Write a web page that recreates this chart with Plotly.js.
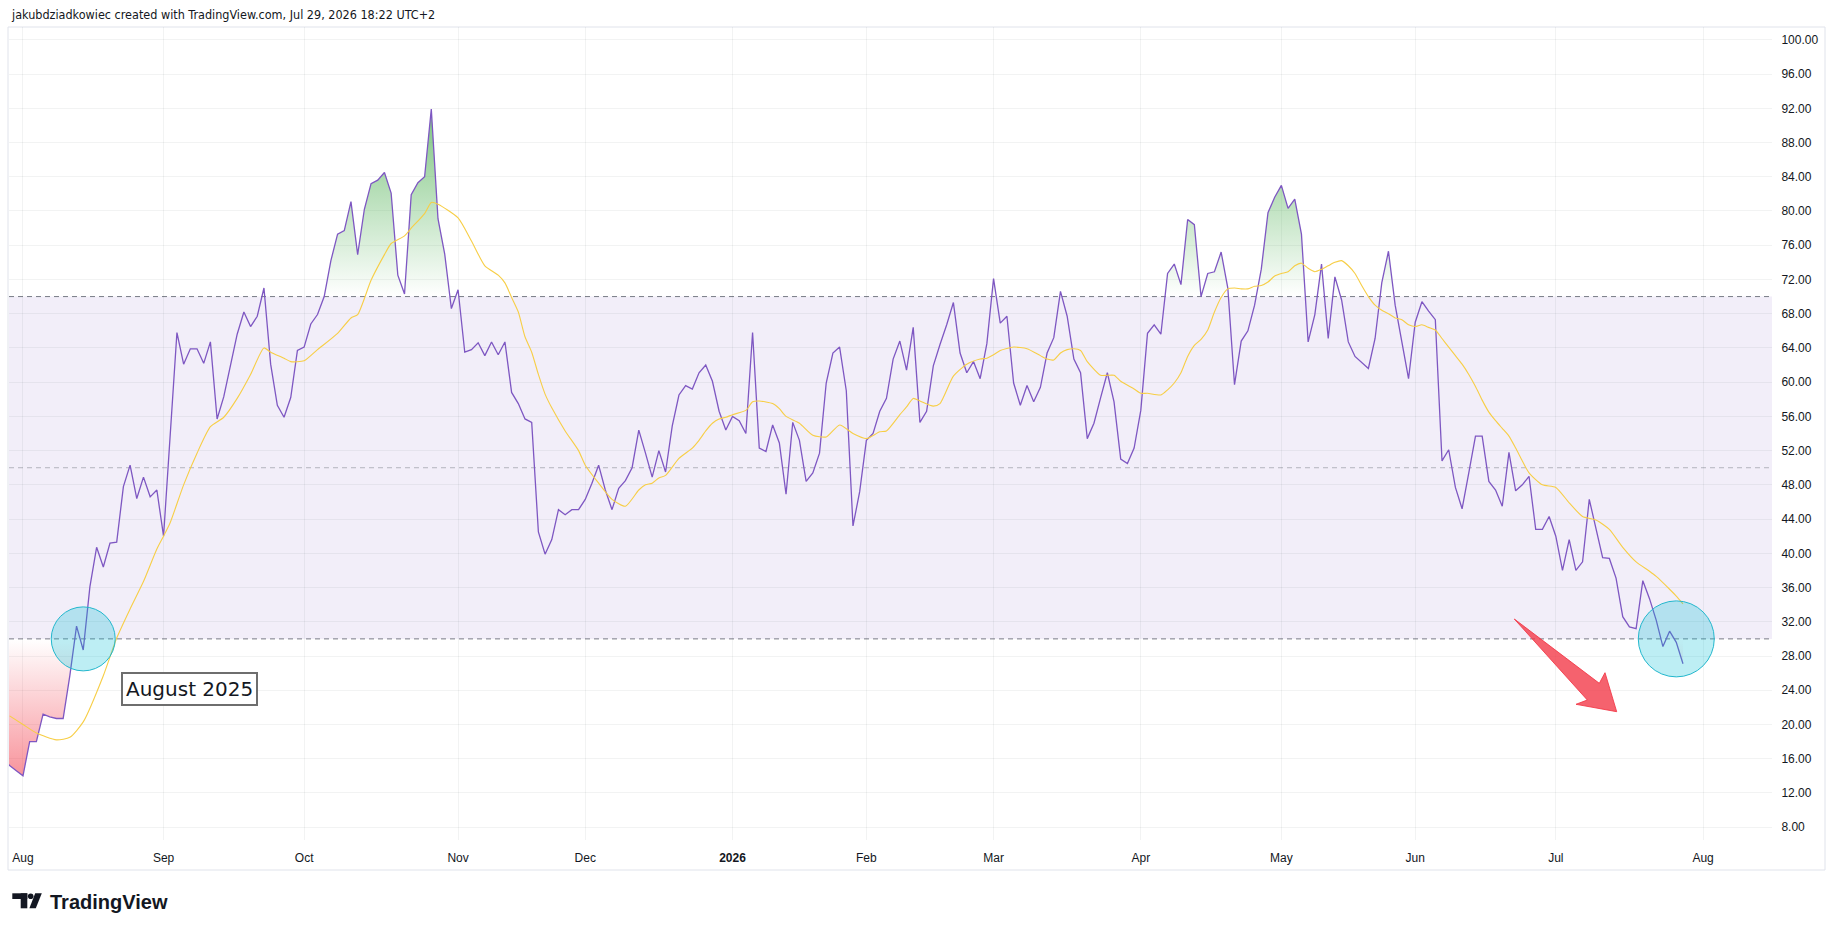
<!DOCTYPE html>
<html>
<head>
<meta charset="utf-8">
<script src="https://cdn.plot.ly/plotly-3.0.1.min.js"></script>
<style>
html,body{margin:0;padding:0;background:#ffffff;}
#chart{width:1835px;height:931px;}
</style>
</head>
<body>
<div id="chart"></div>
<script>
// ---------------- DATA ----------------
const firstDate = '2025-07-29';
const calendarEnd = '2026-08-31';
const holidays = ['2025-09-01','2025-11-27','2025-12-25','2026-01-01','2026-01-19',
                  '2026-02-16','2026-04-03','2026-05-25','2026-06-19','2026-07-03'];

// RSI(14), one value per trading day starting 2025-07-29
const rsiValues = [
  16.0, 15.2, 14.6,
  14.0, 18.0, 18.0, 21.2, 20.9, 20.7, 20.7, 25.7, 31.5, 28.7,
  36.1, 40.7, 38.4, 41.2, 41.3, 47.8, 50.3, 46.4, 48.9, 46.6,
  47.4, 42.0, 54.0, 65.8, 62.1, 63.9, 63.9, 62.2, 64.7, 55.7,
  58.3, 61.8, 65.6, 68.2, 66.5, 67.7, 71.0, 62.1, 57.3, 55.9,
  58.2, 63.7, 64.1, 66.8, 67.9, 70.0, 74.2, 77.3, 77.7, 81.1,
  74.9, 80.2, 83.2, 83.6, 84.5, 82.1, 72.5, 70.3, 81.9, 83.3,
  84.0, 91.9, 79.1, 75.0, 68.6, 70.8, 63.5, 63.8, 64.6, 63.1,
  64.7, 63.2, 64.7, 58.8, 57.5, 55.7, 55.3, 42.5, 39.9, 41.6,
  45.1, 44.5, 45.1, 45.1, 46.3, 48.2, 50.3, 47.4, 45.1, 47.6,
  48.5, 50.0, 54.4, 51.7, 48.9, 52.0, 49.5, 54.9, 58.5, 59.6,
  59.2, 61.1, 62.0, 60.1, 56.6, 54.4, 56.0, 55.5, 54.0, 65.8,
  52.3, 51.9, 55.0, 52.9, 46.9, 55.3, 53.2, 48.4, 49.4, 51.7,
  59.9, 63.4, 64.1, 59.0, 43.2, 47.2, 53.2, 54.0, 56.6, 58.1,
  62.7, 64.8, 61.4, 66.4, 55.3, 56.6, 61.9, 64.4, 66.7, 69.3,
  63.4, 61.1, 62.4, 60.4, 64.5, 72.1, 66.9, 67.7, 59.9, 57.3,
  59.6, 57.7, 59.4, 63.4, 65.2, 70.6, 67.7, 62.7, 61.1, 53.4,
  55.2, 58.2, 61.1, 57.7, 51.0, 50.5, 52.3, 56.7, 65.7, 66.7,
  65.6, 72.7, 73.8, 71.4, 79.0, 78.4, 70.0, 72.7, 72.9, 75.2,
  71.0, 59.7, 64.8, 66.0, 69.0, 73.2, 79.8, 81.6, 83.0, 80.3,
  81.4, 77.3, 64.7, 67.9, 73.8, 65.1, 72.3, 69.6, 64.7, 63.0,
  62.3, 61.6, 65.1, 71.6, 75.3, 69.0, 64.7, 60.4, 67.0, 69.4,
  68.3, 67.3, 50.8, 52.1, 47.7, 45.2, 49.4, 53.7, 53.7, 48.4,
  47.4, 45.5, 51.8, 47.3, 48.0, 49.0, 42.8, 42.8, 44.3, 42.0,
  38.0, 41.6, 38.0, 39.0, 46.3, 42.8, 39.5, 39.4, 37.1, 32.6,
  31.4, 31.2, 36.8, 34.7, 32.2, 29.1, 30.9, 29.6, 27.1
];

// RSI-based moving average, read at these trading-day numbers (0 = first date)
const maDay = [
  1, 3, 5, 8, 10, 12, 15, 17, 19, 21, 23, 24, 25, 27, 29, 31, 33, 35, 37, 39,
  40, 42, 43, 45, 47, 50, 52, 53, 55, 57, 58, 60, 61, 63, 64, 65, 68, 70, 72, 74,
  75, 76, 77, 78, 79, 80, 81, 82, 84, 86, 87, 89, 91, 93, 95, 96, 97, 98, 99, 101,
  103, 104, 105, 106, 107, 108, 109, 111, 112, 113, 115, 116, 117, 119, 121, 123, 125, 127, 129, 131,
  132, 134, 135, 136, 137, 139, 140, 142, 144, 146, 147, 148, 149, 151, 153, 155, 156, 157, 158, 159,
  160, 161, 162, 164, 165, 166, 167, 169, 170, 171, 173, 174, 175, 176, 177, 178, 179, 180, 181, 182,
  183, 184, 185, 186, 187, 188, 189, 190, 191, 192, 193, 194, 195, 196, 197, 198, 199, 200, 201, 202,
  203, 204, 205, 206, 207, 208, 209, 210, 211, 212, 213, 214, 215, 216, 217, 218, 219, 220, 221, 222,
  223, 224, 225, 226, 227, 228, 230, 232, 234, 236, 238, 240, 242, 244, 246, 247, 249, 250, 251
];
const maValue = [
  21.0, 20.0, 19.0, 18.2, 18.5, 20.3, 25.7, 30.1, 33.5, 36.7, 40.5, 42.0, 43.6, 48.0, 51.7, 54.8, 55.9, 58.1, 60.9, 64.0,
  63.5, 62.8, 62.4, 62.5, 63.8, 65.7, 67.5, 67.9, 71.9, 74.9, 76.2, 77.1, 78.0, 79.7, 81.0, 80.8, 79.2, 76.5, 73.6, 72.5,
  71.6, 69.9, 68.2, 65.3, 63.5, 60.9, 58.6, 57.0, 54.3, 52.0, 50.3, 48.2, 46.3, 45.5, 47.4, 48.0, 48.2, 48.8, 49.1, 51.1,
  52.3, 53.2, 54.3, 55.2, 55.7, 55.9, 56.2, 56.7, 57.7, 57.8, 57.5, 56.9, 56.0, 55.2, 53.8, 53.6, 55.0, 54.0, 53.4, 54.2,
  54.3, 56.2, 57.1, 58.1, 57.8, 57.2, 57.5, 60.7, 62.1, 62.7, 62.8, 63.2, 63.7, 64.1, 63.9, 63.1, 62.7, 62.6, 63.4, 63.8,
  63.9, 63.7, 62.4, 60.8, 60.8, 60.8, 60.1, 59.2, 58.7, 58.7, 58.5, 59.1, 59.9, 61.1, 63.0, 64.3, 65.0, 66.1, 68.2, 69.9,
  70.9, 71.0, 70.9, 70.9, 71.2, 71.3, 71.7, 72.4, 72.7, 72.9, 73.6, 73.9, 73.3, 72.9, 73.2, 73.6, 74.0, 74.2, 73.6, 72.7,
  71.3, 70.0, 69.0, 68.4, 68.0, 67.5, 67.3, 66.7, 66.5, 66.7, 66.4, 66.1, 65.1, 64.1, 63.1, 62.1, 60.9, 59.5, 57.9, 56.5,
  55.5, 54.6, 53.7, 52.3, 50.8, 49.4, 48.0, 47.7, 45.9, 44.3, 43.9, 42.8, 40.7, 39.0, 37.9, 37.3, 35.8, 35.0, 34.1
];

const monthLabels = ['Aug','Sep','Oct','Nov','Dec','<b>2026</b>','Feb','Mar','Apr','May','Jun','Jul','Aug'];
const levels = {overbought: 70, middle: 50, oversold: 30};
const circleDates = ['2025-08-14','2026-07-28'];
const noteText = 'August 2025';
const headerText = 'jakubdziadkowiec created with TradingView.com, Jul 29, 2026 18:22 UTC+2';

// ---------------- CALENDAR ----------------
function buildCalendar(){
  const days = [];
  const d = new Date(firstDate + 'T00:00:00Z');
  const end = new Date(calendarEnd + 'T00:00:00Z');
  while (d <= end) {
    const s = d.toISOString().slice(0,10);
    const wd = d.getUTCDay();
    if (wd !== 0 && wd !== 6 && holidays.indexOf(s) < 0) days.push(s);
    d.setUTCDate(d.getUTCDate() + 1);
  }
  return days;
}
const calendar = buildCalendar();
const rsiDates = calendar.slice(0, rsiValues.length);
const xIdx = rsiDates.map((_, i) => i);

// first trading day of each month (from Aug 2025)
const monthStarts = [];
for (let i = 1; i < calendar.length; i++) {
  if (calendar[i].slice(0,7) !== calendar[i-1].slice(0,7)) monthStarts.push(i);
}
const tickvals = monthStarts.slice(0, monthLabels.length);

// ---------------- GEOMETRY ----------------
const W = 1835, H = 931, ML = 9, MR = 63, MT = 27, MB = 91;
const PW = W - ML - MR, PH = H - MT - MB;
const px = v => (v - ML) / PW;
const py = v => (H - MB - v) / PH;

const ink = '#131722';
const rsiColor = '#7E57C2';
const maColor = '#F7CE46';

// ---------------- TRACES ----------------
const base70 = {x: xIdx, y: xIdx.map(() => levels.overbought), mode: 'lines',
  line: {width: 0, color: 'rgba(0,0,0,0)'}, hoverinfo: 'skip', showlegend: false};
const obFill = {x: xIdx, y: rsiValues, mode: 'lines', fill: 'tonexty',
  line: {width: 0, color: 'rgba(0,0,0,0)'},
  fillgradient: {type: 'vertical', start: 70, stop: 100,
    colorscale: [[0, 'rgba(76,175,80,0)'], [1, 'rgba(76,175,80,1)']]},
  hoverinfo: 'skip', showlegend: false};
const base30 = {x: xIdx, y: xIdx.map(() => levels.oversold), mode: 'lines',
  line: {width: 0, color: 'rgba(0,0,0,0)'}, hoverinfo: 'skip', showlegend: false};
const osFill = {x: xIdx, y: rsiValues, mode: 'lines', fill: 'tonexty',
  line: {width: 0, color: 'rgba(0,0,0,0)'},
  fillgradient: {type: 'vertical', start: 0, stop: 30,
    colorscale: [[0, 'rgba(242,54,69,1)'], [1, 'rgba(242,54,69,0)']]},
  hoverinfo: 'skip', showlegend: false};
const rsiLine = {x: xIdx, y: rsiValues, text: rsiDates, mode: 'lines', name: 'RSI',
  line: {color: rsiColor, width: 1.3}, showlegend: false};
const maLine = {x: maDay, y: maValue, mode: 'lines', name: 'RSI-based MA',
  line: {color: maColor, width: 1.1, shape: 'spline', smoothing: 0.6}, showlegend: false};

// ---------------- SHAPES ----------------
const shapes = [];
// chart panel border
shapes.push({type: 'rect', xref: 'paper', yref: 'paper', x0: px(8), x1: px(1825), y0: py(870), y1: py(27),
  line: {color: '#e0e3eb', width: 1}, fillcolor: 'rgba(0,0,0,0)', layer: 'below'});
// band
shapes.push({type: 'rect', xref: 'paper', yref: 'y', x0: 0, x1: 1, y0: levels.oversold, y1: levels.overbought,
  fillcolor: 'rgba(126,87,194,0.1)', line: {width: 0}, layer: 'between'});
// level lines
[[levels.overbought, '#787B86'], [levels.middle, 'rgba(120,123,134,0.5)'], [levels.oversold, '#787B86']].forEach(([v, c]) => {
  shapes.push({type: 'line', xref: 'paper', yref: 'y', x0: 0, x1: 1, y0: v, y1: v,
    line: {color: c, width: 1, dash: '5px,4px'}, layer: 'between'});
});
// highlight circles
const circleRadius = [32, 38];
circleDates.forEach((d, i) => {
  const r = circleRadius[i];
  shapes.push({type: 'circle', xref: 'x', yref: 'y', xsizemode: 'pixel', ysizemode: 'pixel',
    xanchor: calendar.indexOf(d), yanchor: levels.oversold, x0: -r, x1: r, y0: -r, y1: r,
    fillcolor: 'rgba(0,188,212,0.26)', line: {color: '#22B7CD', width: 1}, layer: 'above'});
});
// red arrow
const arrowPts = [[1514.3,619],[1599.3,683.3],[1605,672.7],[1616.7,711.7],[1576,704.3],[1587.3,700]];
shapes.push({type: 'path', xref: 'paper', yref: 'paper',
  path: 'M' + arrowPts.map(p => px(p[0]) + ',' + py(p[1])).join(' L') + ' Z',
  fillcolor: 'rgba(242,54,69,0.78)', line: {color: 'rgba(242,54,69,0.85)', width: 1}, layer: 'above'});
// TradingView logo mark
shapes.push({type: 'rect', xref: 'paper', yref: 'paper', x0: px(12.3), x1: px(27.3), y0: py(899), y1: py(893.3),
  fillcolor: ink, line: {width: 0}});
shapes.push({type: 'rect', xref: 'paper', yref: 'paper', x0: px(20.7), x1: px(27.3), y0: py(908.3), y1: py(893.3),
  fillcolor: ink, line: {width: 0}});
shapes.push({type: 'circle', xref: 'paper', yref: 'paper', x0: px(27.9), x1: px(33.5), y0: py(899.1), y1: py(893.5),
  fillcolor: ink, line: {width: 0}});
const slash = [[35.2,893.3],[41.8,893.3],[35.8,908.3],[29.4,908.3]];
shapes.push({type: 'path', xref: 'paper', yref: 'paper',
  path: 'M' + slash.map(p => px(p[0]) + ',' + py(p[1])).join(' L') + ' Z', fillcolor: ink, line: {width: 0}});

// ---------------- ANNOTATIONS ----------------
const annotations = [
  {xref: 'paper', yref: 'paper', x: px(9), y: py(15), xanchor: 'left', yanchor: 'middle', showarrow: false,
   text: headerText, font: {family: 'Liberation Sans Narrow, DejaVu Sans Condensed, Liberation Sans, Arial', size: 12.5, color: ink}},
  {xref: 'paper', yref: 'paper', x: px(48), y: py(901.5), xanchor: 'left', yanchor: 'middle', showarrow: false,
   text: '<b>TradingView</b>', font: {family: 'Liberation Sans, Arial', size: 20, color: ink}},
  {xref: 'paper', yref: 'paper', x: px(120.5), y: py(672), xanchor: 'left', yanchor: 'top', showarrow: false,
   text: noteText, font: {family: 'DejaVu Sans', size: 20, color: ink},
   bgcolor: '#ffffff', bordercolor: '#6e6e6e', borderwidth: 2, borderpad: 3}
];

// ---------------- LAYOUT ----------------
const layout = {
  width: W, height: H,
  margin: {l: ML, r: MR, t: MT, b: MB, pad: 0},
  paper_bgcolor: '#ffffff', plot_bgcolor: '#ffffff',
  showlegend: false,
  xaxis: {type: 'linear', range: [0.91, 264.3], tickvals: tickvals, ticktext: monthLabels,
    tickfont: {family: 'Liberation Sans, Arial', size: 12, color: ink},
    showgrid: true, gridcolor: 'rgba(42,46,57,0.06)', gridwidth: 1, zeroline: false, showline: false,
    ticks: 'outside', ticklen: 7, tickcolor: 'rgba(0,0,0,0)', fixedrange: true},
  yaxis: {side: 'right', range: [6.5, 101.5], tick0: 0, dtick: 4, tickformat: '.2f',
    tickfont: {family: 'Liberation Sans, Arial', size: 12, color: ink},
    showgrid: true, gridcolor: 'rgba(42,46,57,0.06)', gridwidth: 1, zeroline: false, showline: false,
    ticks: 'outside', ticklen: 6, tickcolor: 'rgba(0,0,0,0)', fixedrange: true},
  shapes: shapes,
  annotations: annotations
};

Plotly.newPlot('chart', [base70, obFill, base30, osFill, rsiLine, maLine], layout,
  {staticPlot: true, displayModeBar: false});
</script>
</body>
</html>
